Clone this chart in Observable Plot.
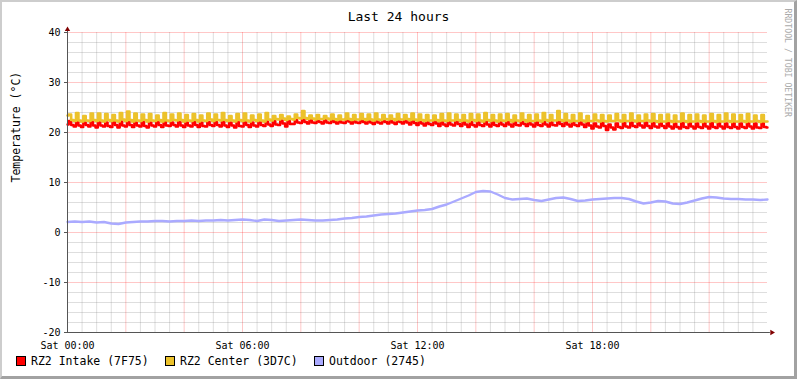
<!DOCTYPE html>
<html><head><meta charset="utf-8">
<script src="https://cdn.jsdelivr.net/npm/d3@7"></script>
<script src="https://cdn.jsdelivr.net/npm/@observablehq/plot@0.6"></script>
<style>
body{margin:0;background:#fff}
#wrap{position:relative;width:797px;height:379px;overflow:hidden;background:#fff}
#frame{position:absolute;left:0;top:0;width:797px;height:379px;box-sizing:border-box;border-top:2px solid #cdcdcd;border-left:2px solid #cdcdcd;border-right:3px solid #a2a2a2;border-bottom:3px solid #a2a2a2;pointer-events:none}
#legend{position:absolute;left:16px;top:354px;display:flex;font:11.5px "DejaVu Sans Mono";line-height:14px;color:#000}
.item{width:149px;display:flex;align-items:center;white-space:pre}
.sw{width:10px;height:10px;border:1px solid #000;box-sizing:border-box;margin-right:5px;flex:none}
</style></head>
<body><div id="wrap"><div id="chart"></div><div id="legend"></div><div id="frame"></div></div>
<script>
const title = "Last 24 hours";
const yLabel = "Temperature (°C)";
const watermark = "RRDTOOL / TOBI OETIKER";
const xTicks = [0, 6, 12, 18];
const xTickLabels = ["Sat 00:00", "Sat 06:00", "Sat 12:00", "Sat 18:00"];
const yTicks = [-20, -10, 0, 10, 20, 30, 40];
const seriesNames = ["RZ2 Intake (7F75)", "RZ2 Center (3D7C)", "Outdoor (2745)"];
const seriesColors = ["#ff0000", "#ecc22b", "#aaaaff"];

// 5-minute samples (hours = index / 12)
const intakeStepHours = 5 / 60;
const intake = [
21.6,22.3,21.5, 21.2,22.1,21.4, 21.1,22.0,21.5, 21.2,22.2,21.4,
21.0,22.1,21.4, 21.2,22.0,21.3, 21.1,22.1,21.5, 21.0,22.2,21.4,
21.2,22.3,21.5, 21.1,22.0,21.4, 21.2,22.1,21.3, 21.0,22.0,21.4,
21.2,22.1,21.5, 21.1,22.2,21.4, 21.3,22.0,21.5, 21.2,22.1,21.4,
21.1,22.0,21.4, 21.2,22.2,21.5, 21.1,22.0,21.3, 21.2,22.1,21.5,
21.3,22.1,21.5, 21.2,22.2,21.4, 21.1,22.0,21.4, 21.0,22.1,21.3,
21.2,22.2,21.5, 21.1,22.0,21.4, 21.2,22.1,21.5, 21.3,22.2,21.6,
21.3,22.3,21.6, 21.5,22.4,21.8, 21.2,22.3,21.7, 21.7,22.5,22.0,
21.9,22.6,22.1, 21.8,22.5,22.0, 21.9,22.6,22.1, 21.8,22.5,22.0,
21.9,22.7,22.1, 21.8,22.6,22.0, 21.9,22.8,22.2, 21.8,22.6,22.0,
21.9,22.7,22.1, 21.8,22.8,22.0, 21.7,22.6,22.0, 21.8,22.7,22.1,
21.8,22.6,22.0, 21.7,22.8,22.1, 21.8,22.6,22.0, 21.6,22.7,21.9,
21.5,22.4,21.8, 21.4,22.3,21.7, 21.5,22.5,21.8, 21.3,22.3,21.6,
21.3,22.2,21.6, 21.4,22.3,21.7, 21.3,22.2,21.6, 21.1,22.1,21.5,
21.2,22.2,21.5, 21.3,22.3,21.6, 21.2,22.1,21.5, 21.3,22.2,21.6,
21.3,22.3,21.6, 21.2,22.1,21.5, 21.4,22.3,21.7, 21.3,22.2,21.6,
21.2,22.2,21.5, 21.3,22.3,21.6, 21.2,22.1,21.5, 21.4,22.4,21.7,
21.3,22.2,21.6, 21.2,22.1,21.5, 21.3,22.2,21.6, 21.1,22.0,21.4,
20.8,21.8,21.2, 21.0,22.0,21.3, 20.5,21.6,21.0, 20.6,21.8,21.1,
20.9,21.9,21.2, 21.0,22.0,21.3, 21.1,22.1,21.4, 21.0,22.0,21.3,
20.9,21.9,21.2, 21.0,22.0,21.3, 20.9,21.9,21.2, 20.8,21.8,21.1,
20.8,21.9,21.1, 20.9,22.0,21.2, 20.8,21.8,21.1, 20.9,21.9,21.2,
20.8,21.9,21.1, 20.9,22.0,21.2, 20.8,21.8,21.1, 20.9,21.9,21.1,
20.8,21.8,21.1, 20.9,21.9,21.2, 20.8,21.8,21.0, 20.9,21.9,21.1,
21.0
];

const centerStepHours = 5 / 60;
const center = [
23.4,23.6,22.5, 22.3,23.9,22.4, 22.2,23.3,22.4, 22.3,23.8,22.5,
22.3,23.8,22.4, 22.2,23.7,22.5, 22.3,23.5,22.4, 22.2,23.9,22.6,
22.3,24.2,22.5, 22.2,23.8,22.4, 22.3,23.6,22.5, 22.2,23.7,22.4,
22.3,23.4,22.5, 22.2,23.9,22.4, 22.3,23.6,22.5, 22.4,23.8,22.5,
22.2,23.5,22.4, 22.3,23.7,22.5, 22.2,23.4,22.4, 22.3,23.8,22.6,
22.3,23.6,22.5, 22.4,23.9,22.5, 22.3,23.3,22.4, 22.2,23.7,22.5,
22.3,23.8,22.4, 22.2,23.4,22.5, 22.3,23.6,22.4, 22.2,23.9,22.6,
22.4,23.3,22.7, 22.6,23.5,22.8, 22.5,23.2,22.7, 22.6,23.6,22.9,
22.8,24.3,22.9, 22.7,23.4,22.8, 22.6,23.5,22.7, 22.7,23.3,22.8,
22.6,23.6,22.7, 22.5,23.4,22.6, 22.6,23.8,22.7, 22.5,23.5,22.6,
22.6,23.7,22.7, 22.5,23.6,22.6, 22.4,23.8,22.6, 22.5,23.5,22.7,
22.6,23.4,22.7, 22.5,23.7,22.6, 22.6,23.5,22.7, 22.5,23.8,22.6,
22.4,23.6,22.5, 22.3,23.5,22.4, 22.4,23.4,22.5, 22.3,23.7,22.4,
22.3,23.8,22.4, 22.4,23.6,22.5, 22.3,23.5,22.4, 22.2,23.7,22.5,
22.3,23.6,22.4, 22.2,23.9,22.5, 22.3,23.5,22.4, 22.2,23.6,22.4,
22.3,23.7,22.5, 22.2,23.4,22.4, 22.3,23.8,22.5, 22.2,23.5,22.3,
22.3,23.6,22.4, 22.2,23.9,22.5, 22.3,23.5,22.4, 22.4,24.3,22.5,
22.3,23.7,22.4, 22.2,23.5,22.3, 22.3,23.8,22.4, 22.2,23.3,22.3,
22.3,23.6,22.4, 22.2,23.5,22.3, 22.2,23.4,22.3, 22.3,23.7,22.4,
22.2,23.5,22.3, 22.3,23.8,22.4, 22.2,23.4,22.3, 22.3,23.6,22.4,
22.2,23.7,22.3, 22.1,23.5,22.2, 22.2,23.6,22.3, 22.1,23.4,22.2,
22.2,23.8,22.3, 22.1,23.5,22.2, 22.2,23.6,22.3, 22.1,23.4,22.2,
22.2,23.7,22.3, 22.1,23.5,22.2, 22.2,23.8,22.3, 22.1,23.6,22.2,
22.2,23.5,22.3, 22.1,23.7,22.2, 22.2,23.4,22.3, 22.1,23.5,22.2,
22.2
];

// 15-minute samples (hours = index / 4)
const outdoorStepHours = 15 / 60;
const outdoor = [
2.1,2.2,2.1,2.2,
2.0,2.1,1.8,1.7,
2.0,2.1,2.2,2.2,
2.3,2.3,2.2,2.3,
2.3,2.4,2.3,2.4,
2.4,2.5,2.4,2.5,
2.6,2.5,2.3,2.6,
2.5,2.3,2.4,2.5,
2.6,2.5,2.4,2.4,
2.5,2.6,2.8,2.9,
3.1,3.2,3.4,3.6,
3.7,3.8,4.0,4.2,
4.4,4.5,4.7,5.2,
5.6,6.2,6.8,7.4,
8.1,8.3,8.2,7.6,
6.9,6.6,6.7,6.8,
6.5,6.3,6.6,6.9,
7.0,6.7,6.3,6.4,
6.6,6.7,6.8,6.9,
6.9,6.7,6.2,5.8,
6.0,6.3,6.2,5.8,
5.7,6.0,6.4,6.8,
7.1,7.0,6.8,6.7,
6.7,6.6,6.6,6.5,
6.6
];

const minorX = d3.range(0.5, 24, 0.5).filter(h => h % 2 !== 0);
const majorX = d3.range(2, 24, 2);
const minorY = d3.range(-18, 40, 2).filter(v => v % 10 !== 0);
const majorY = d3.range(-10, 41, 10);

const toPts = (arr, step) => arr.map((v, i) => ({h: i * step, v}));

const chart = Plot.plot({
  width: 797, height: 379,
  marginLeft: 67, marginRight: 30, marginTop: 32, marginBottom: 47,
  style: {fontFamily: "DejaVu Sans Mono", fontSize: "10px", background: "transparent", color: "#000", overflow: "visible"},
  x: {domain: [0, 24]},
  y: {domain: [-20, 40]},
  marks: [
    Plot.gridX(minorX, {stroke: "#808080", strokeOpacity: 0.26}),
    Plot.gridY(minorY, {stroke: "#808080", strokeOpacity: 0.26}),
    Plot.gridX(majorX, {stroke: "#ff0000", strokeOpacity: 0.22}),
    Plot.gridY(majorY, {stroke: "#ff0000", strokeOpacity: 0.22}),
    Plot.axisY({ticks: yTicks, tickFormat: d => String(d), tickSize: 3, tickPadding: 4, label: null, stroke: "#555"}),
    Plot.axisX({ticks: xTicks, tickFormat: d => xTickLabels[xTicks.indexOf(d)], tickSize: 0, tickPadding: 9, label: null}),
    Plot.line(toPts(intake, intakeStepHours), {x: "h", y: "v", stroke: seriesColors[0], strokeWidth: 2.4, curve: "step"}),
    Plot.line(toPts(center, centerStepHours), {x: "h", y: "v", stroke: seriesColors[1], strokeWidth: 2.6, curve: "step"}),
    Plot.line(toPts(outdoor, outdoorStepHours), {x: "h", y: "v", stroke: seriesColors[2], strokeWidth: 2.4}),
    Plot.ruleX([0], {y1: -20, y2: 40.6, stroke: "#555"}),
    Plot.ruleY([-20], {x1: 0, x2: 24.1, stroke: "#555"}),
    Plot.dot([{h: 0, v: 40.6}], {x: "h", y: "v", symbol: "triangle", r: 2, fill: "#800000", stroke: null}),
    Plot.dot([{h: 24.15, v: -20}], {x: "h", y: "v", symbol: "triangle", r: 2, rotate: 90, fill: "#800000", stroke: null}),
    Plot.text([title], {text: d => d, frameAnchor: "top", dx: -19, dy: -16, fontSize: 13, lineAnchor: "middle"}),
    Plot.text([yLabel], {text: d => d, frameAnchor: "left", dx: -51, rotate: -90, fontSize: 11.5, lineAnchor: "middle"}),
    Plot.text([watermark], {text: d => d, frameAnchor: "top-right", dx: 20, dy: -24, rotate: 90, textAnchor: "start", lineAnchor: "middle", fontSize: 8.2, fill: "#aaaaaa"})
  ]
});
document.getElementById("chart").appendChild(chart);

const legend = document.getElementById("legend");
seriesNames.forEach((name, i) => {
  const item = document.createElement("div");
  item.className = "item";
  const sw = document.createElement("span");
  sw.className = "sw";
  sw.style.background = seriesColors[i];
  item.appendChild(sw);
  item.appendChild(document.createTextNode(name));
  legend.appendChild(item);
});
</script>
</body></html>
